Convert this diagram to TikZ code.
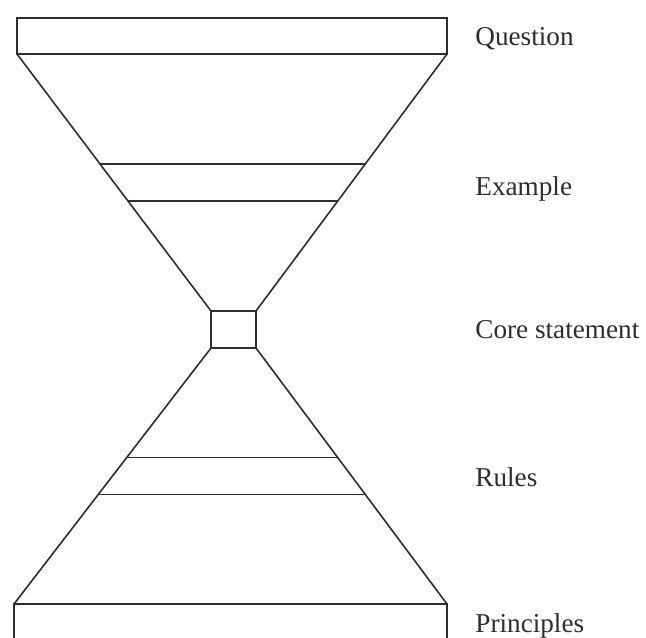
\documentclass[tikz,border=0pt]{standalone}
\usepackage{fontspec}
\setmainfont{Liberation Serif}
\usepackage{tikz}
\usetikzlibrary{positioning, calc}
\definecolor{mydark}{RGB}{45,45,45}
\tikzset{
  line/.style={line width=0.8pt, color=mydark, line join=miter},
  tag/.style={anchor=base west, inner sep=0pt, text=mydark,
    font=\fontsize{13.6}{16}\selectfont}
}

\begin{document}
\begin{tikzpicture}[x=0.5pt, y=-0.5pt]
  \useasboundingbox (0,0) rectangle (646,637);

  % Corners
  \coordinate (qtl) at (17,18);
  \coordinate (qtr) at (447,18);
  \coordinate (qbl) at (17,54);
  \coordinate (qbr) at (447,54);
  \coordinate (ctl) at (211,311);
  \coordinate (ctr) at (256,311);
  \coordinate (cbl) at (211,348);
  \coordinate (cbr) at (256,348);
  \coordinate (ptl) at (14,604);
  \coordinate (ptr) at (447,604);
  \coordinate (pbl) at (14,645);
  \coordinate (pbr) at (447,645);

  % Question box
  \draw[line] (qtl) rectangle (qbr);

  % Upper funnel
  \draw[line] (qbl) -- (ctl);
  \draw[line] (qbr) -- (ctr);
  \draw[line] ($(qbl)!0.428!(ctl)$) -- ($(qbr)!0.428!(ctr)$);
  \draw[line] ($(qbl)!0.572!(ctl)$) -- ($(qbr)!0.572!(ctr)$);

  % Core box
  \draw[line] (ctl) rectangle (cbr);

  % Lower funnel
  \draw[line] (cbl) -- (ptl);
  \draw[line] (cbr) -- (ptr);
  \draw[line] ($(cbl)!0.428!(ptl)$) -- ($(cbr)!0.428!(ptr)$);
  \draw[line] ($(cbl)!0.572!(ptl)$) -- ($(cbr)!0.572!(ptr)$);

  % Principles box
  \draw[line] (pbl) -- (ptl) -- (ptr) -- (pbr);

  % Labels
  \node[tag] (question) at (475,45) {Question};
  \node[tag] (example) at (475,195) {Example};
  \node[tag] (core) at (475,338) {Core statement};
  \node[tag] (rules) at (475,486) {Rules};
  \node[tag] (principles) at (475,632) {Principles};
\end{tikzpicture}
\end{document}
